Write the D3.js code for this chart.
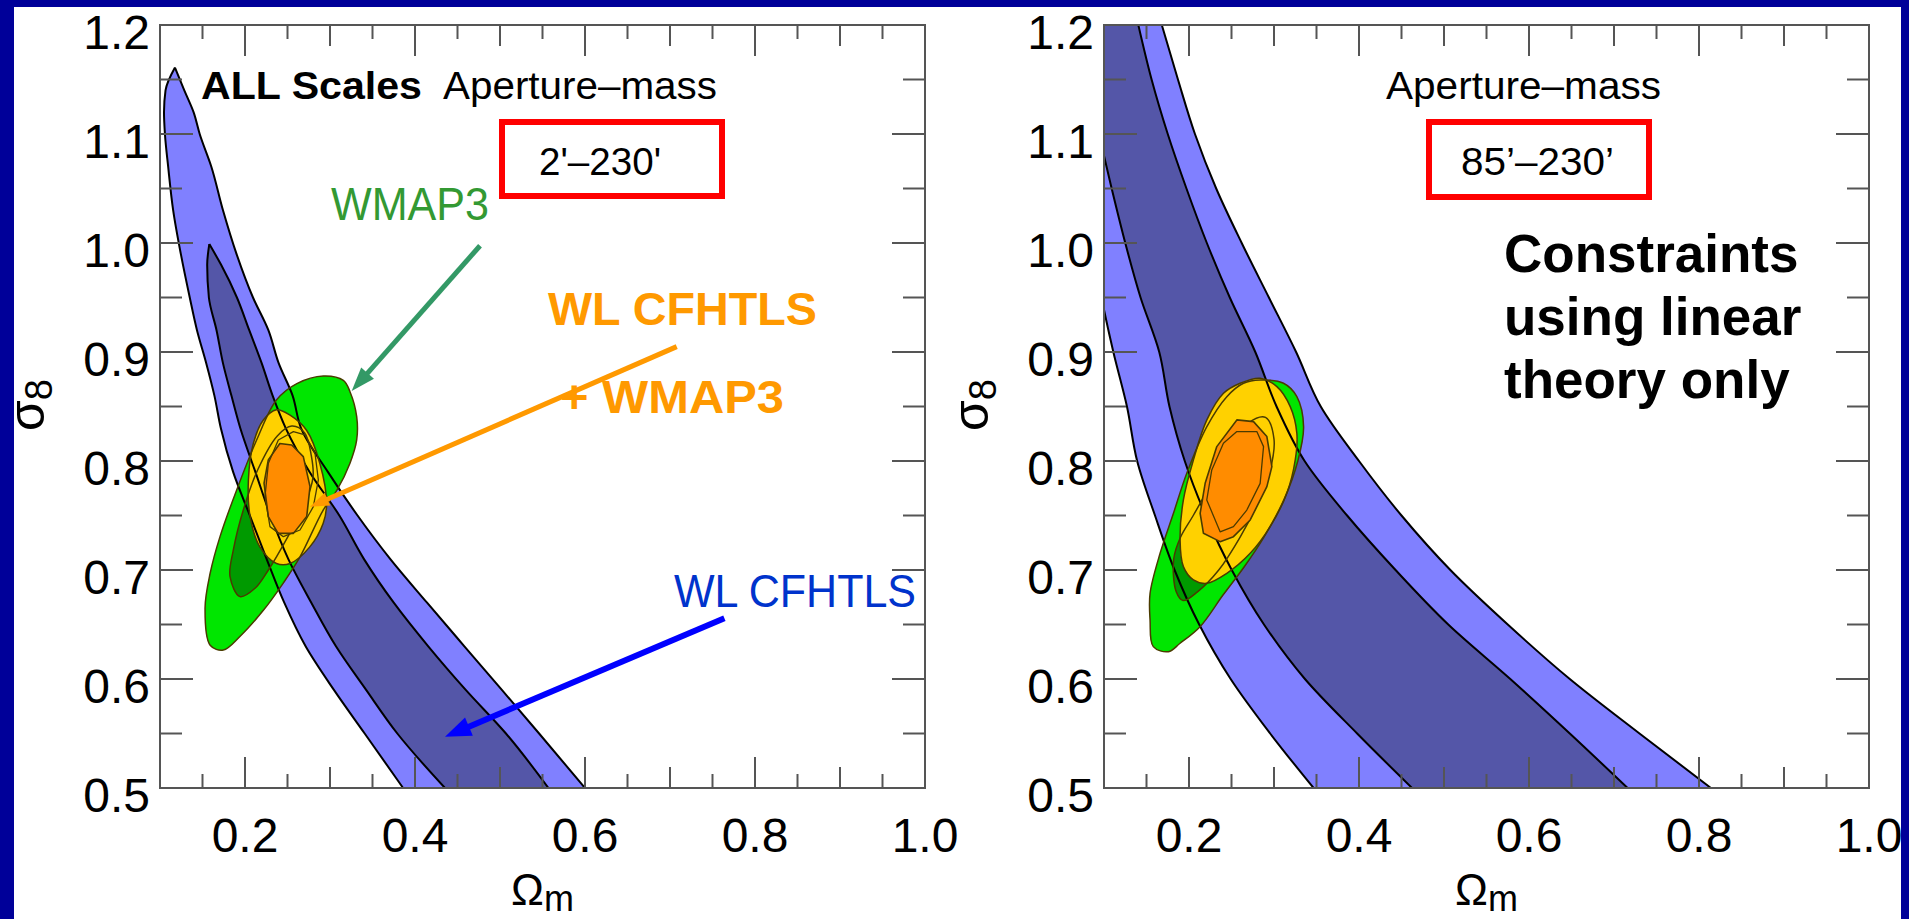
<!DOCTYPE html>
<html>
<head>
<meta charset="utf-8">
<script src="https://cdn.jsdelivr.net/npm/d3@7"></script>
<style>
  html, body { margin: 0; padding: 0; background: #000099; overflow: hidden; }
  svg { display: block; }
  text { font-family: "Liberation Sans", Arial, Helvetica, sans-serif; }
</style>
</head>
<body>
<svg id="fig" width="1909" height="919"></svg>
<script>
// ---------------- axis ticks ----------------
const xLabelTicks = [0.2, 0.4, 0.6, 0.8, 1.0];
const xMidTicks = [0.1, 0.3, 0.5, 0.7, 0.9];
const xMinorTicks = [0.15, 0.25, 0.35, 0.45, 0.55, 0.65, 0.75, 0.85, 0.95];
const yMajorTicks = [0.5, 0.6, 0.7, 0.8, 0.9, 1.0, 1.1, 1.2];
const yMinorTicks = [0.55, 0.65, 0.75, 0.85, 0.95, 1.05, 1.15];

// ---------------- WL CFHTLS, all scales (left panel) ----------------
// each band: sigma8 levels with the Omega_m range [lo, hi] at that level
const allOuterSigma = [1.161, 1.14, 1.12, 1.10, 1.07, 1.03, 0.99, 0.95, 0.92, 0.89, 0.86, 0.83, 0.79, 0.75, 0.71, 0.67, 0.63, 0.59, 0.55, 0.50];
const allOuterLo    = [0.1176, 0.1065, 0.1047, 0.1058, 0.1096, 0.1155, 0.1245, 0.1350, 0.1435, 0.1543, 0.1640, 0.1716, 0.1860, 0.2057, 0.2255, 0.2462, 0.2713, 0.3046, 0.3408, 0.3860];
const allOuterHi    = [0.1176, 0.1286, 0.1395, 0.1467, 0.1604, 0.1741, 0.1900, 0.2094, 0.2275, 0.2395, 0.2560, 0.2660, 0.2975, 0.3324, 0.3710, 0.4142, 0.4581, 0.5022, 0.5460, 0.6000];
const allInnerSigma = [0.999, 0.98, 0.95, 0.92, 0.89, 0.86, 0.83, 0.79, 0.75, 0.71, 0.67, 0.63, 0.59, 0.55, 0.50];
const allInnerLo    = [0.158, 0.1555, 0.1575, 0.1665, 0.1740, 0.1840, 0.1945, 0.2122, 0.2300, 0.2510, 0.2780, 0.3070, 0.3425, 0.3792, 0.4353];
const allInnerHi    = [0.158, 0.1719, 0.1905, 0.2050, 0.2195, 0.2325, 0.2480, 0.2760, 0.3110, 0.3400, 0.3750, 0.4156, 0.4597, 0.5070, 0.5570];

// ---------------- WL CFHTLS, linear scales 85'-230' (right panel) ----------------
const linSigma   = [1.20, 1.15, 1.10, 1.05, 1.00, 0.95, 0.90, 0.85, 0.80, 0.75, 0.70, 0.65, 0.60, 0.55, 0.50];
const linOuterLo = [0.030, 0.045, 0.060, 0.073, 0.085, 0.097, 0.111, 0.127, 0.139, 0.160, 0.183, 0.212, 0.249, 0.2955, 0.3466];
const linOuterHi = [0.168, 0.187, 0.207, 0.232, 0.262, 0.294, 0.326, 0.355, 0.400, 0.450, 0.5075, 0.575, 0.648, 0.730, 0.814];
const linInnerLo = [0.063, 0.078, 0.094, 0.109, 0.125, 0.143, 0.165, 0.177, 0.195, 0.2197, 0.2503, 0.2882, 0.3364, 0.3978, 0.4624];
const linInnerHi = [0.1404, 0.156, 0.175, 0.197, 0.221, 0.248, 0.278, 0.303, 0.336, 0.386, 0.443, 0.505, 0.578, 0.648, 0.716];

// ---------------- WMAP3 and combined contours, [Omega_m, sigma8] ----------------
const wmapOuterA = [[0.2922,0.878],[0.3157,0.874],[0.3235,0.8636],[0.3314,0.8407],[0.3314,0.8193],[0.3235,0.798],[0.308,0.773],[0.292,0.755],[0.2647,0.712],[0.245,0.688],[0.2216,0.663],[0.194,0.639],[0.1745,0.6266],[0.159,0.631],[0.153,0.665],[0.159,0.697],[0.1706,0.7306],[0.19,0.773],[0.2137,0.8193],[0.237,0.856],[0.261,0.871]];
const wmapInnerA = [[0.1941,0.6756],[0.1824,0.6939],[0.1863,0.7184],[0.198,0.7551],[0.215,0.792],[0.238,0.823],[0.255,0.832],[0.27,0.826],[0.278,0.805],[0.28,0.785],[0.27,0.76],[0.25,0.73],[0.2275,0.70],[0.2118,0.6832]];
const combOuterA = [[0.237,0.847],[0.253,0.842],[0.2726,0.828],[0.288,0.798],[0.296,0.761],[0.292,0.743],[0.276,0.721],[0.253,0.706],[0.237,0.706],[0.2176,0.721],[0.206,0.749],[0.204,0.7826],[0.2098,0.816],[0.2216,0.8376]];
const combInnerA = [[0.241,0.816],[0.255,0.8147],[0.2686,0.804],[0.2765,0.7765],[0.2726,0.749],[0.257,0.7336],[0.239,0.7336],[0.2274,0.749],[0.2224,0.7796],[0.2274,0.801]];
const combAltA   = [[0.2392,0.8193],[0.2569,0.827],[0.2706,0.8239],[0.2824,0.807],[0.2863,0.7826],[0.2804,0.7581],[0.2647,0.7367],[0.2451,0.7306],[0.2294,0.7398],[0.2235,0.7673],[0.2275,0.7979]];

const wmapOuterB = [[0.2837,0.8743],[0.3112,0.8713],[0.3269,0.859],[0.3348,0.8315],[0.328,0.80],[0.312,0.765],[0.288,0.73],[0.265,0.703],[0.24,0.677],[0.213,0.648],[0.1895,0.6328],[0.1758,0.6251],[0.158,0.6297],[0.1542,0.6542],[0.1542,0.6786],[0.166,0.7153],[0.1817,0.752],[0.1974,0.7887],[0.221,0.8315],[0.2445,0.859],[0.2641,0.8713]];
const wmapInnerB = [[0.182,0.71],[0.185,0.68],[0.193,0.672],[0.21,0.68],[0.235,0.70],[0.26,0.73],[0.28,0.76],[0.295,0.79],[0.30,0.82],[0.29,0.84],[0.27,0.835],[0.25,0.815],[0.23,0.785],[0.205,0.75],[0.19,0.73]];
const combOuterB = [[0.2406,0.8621],[0.2602,0.8713],[0.2837,0.8759],[0.3034,0.8682],[0.3191,0.8499],[0.3269,0.8254],[0.325,0.801],[0.3151,0.7704],[0.2955,0.7398],[0.272,0.7153],[0.2445,0.697],[0.221,0.6878],[0.2052,0.6909],[0.1934,0.7031],[0.1895,0.7276],[0.1934,0.7643],[0.2052,0.801],[0.221,0.8377]];
const combInnerB = [[0.2563,0.8377],[0.2759,0.8361],[0.2916,0.8224],[0.2975,0.7948],[0.2916,0.7765],[0.272,0.7459],[0.2523,0.7306],[0.2366,0.726],[0.217,0.7337],[0.2131,0.752],[0.219,0.7795],[0.2327,0.8132]];
const combAltB   = [[0.2563,0.827],[0.2798,0.827],[0.2877,0.8132],[0.2837,0.7795],[0.268,0.755],[0.2523,0.7398],[0.2366,0.735],[0.2209,0.7643],[0.2268,0.7918],[0.2405,0.8162]];

// ---------------- annotation arrows, [Omega_m, sigma8] from -> to ----------------
const arrowWmap  = [[0.4765, 0.9975], [0.3255, 0.8642]];
const arrowComb  = [[0.7079, 0.9049], [0.2765, 0.7580]];
const arrowWL    = [[0.7640, 0.6557], [0.4353, 0.5470]];

// ---------------- styling ----------------
const C = {
  navy: "#000099", lightBlue: "#8080ff", darkBlue: "#5456a8",
  green: "#00e600", darkGreen: "#009a00", yellow: "#ffd100", orange: "#ff8c00",
  contourLine: "#4a3b00", frame: "#555555"
};
const PLOT_W = 765, PLOT_TOP = 25, PLOT_BOTTOM = 788;

const svg = d3.select("#fig");
svg.append("rect").attr("x", 0).attr("y", 0).attr("width", 1909).attr("height", 919).attr("fill", C.navy);
svg.append("rect").attr("x", 14).attr("y", 7).attr("width", 1887).attr("height", 912).attr("fill", "#ffffff");
const defs = svg.append("defs");

function drawPanel(cfg) {
  const g = svg.append("g");
  const x = d3.scaleLinear().domain([0.1, 1.0]).range([cfg.left, cfg.left + PLOT_W]);
  const y = d3.scaleLinear().domain([0.5, 1.2]).range([PLOT_BOTTOM, PLOT_TOP]);

  defs.append("clipPath").attr("id", "clip-" + cfg.id)
    .append("rect").attr("x", cfg.left).attr("y", PLOT_TOP)
    .attr("width", PLOT_W).attr("height", PLOT_BOTTOM - PLOT_TOP);
  const plot = g.append("g").attr("clip-path", `url(#clip-${cfg.id})`);

  const band = (sig, lo, hi) => d3.area().curve(d3.curveMonotoneY)
    .y((d, i) => y(sig[i])).x0((d, i) => x(lo[i])).x1((d, i) => x(hi[i]))(sig);
  const edge = (sig, vals) => d3.line().curve(d3.curveMonotoneY)
    .x((d, i) => x(vals[i])).y((d, i) => y(sig[i]))(sig);
  const smooth = d3.line().x(d => x(d[0])).y(d => y(d[1])).curve(d3.curveCatmullRomClosed.alpha(0.5));
  const poly = d3.line().x(d => x(d[0])).y(d => y(d[1])).curve(d3.curveLinearClosed);

  // lensing bands
  plot.append("path").attr("d", band(cfg.outer.sig, cfg.outer.lo, cfg.outer.hi)).attr("fill", C.lightBlue);
  plot.append("path").attr("d", band(cfg.inner.sig, cfg.inner.lo, cfg.inner.hi)).attr("fill", C.darkBlue);

  // WMAP3 and combined fills
  plot.append("path").attr("d", smooth(cfg.wmapOuter)).attr("fill", C.green);
  plot.append("path").attr("d", smooth(cfg.wmapInner)).attr("fill", C.darkGreen);
  plot.append("path").attr("d", smooth(cfg.combOuter)).attr("fill", C.yellow);

  // contour outlines
  [[cfg.outer.sig, cfg.outer.lo], [cfg.outer.sig, cfg.outer.hi],
   [cfg.inner.sig, cfg.inner.lo], [cfg.inner.sig, cfg.inner.hi]].forEach(([s, v]) => {
    plot.append("path").attr("d", edge(s, v)).attr("fill", "none")
      .attr("stroke", "#000").attr("stroke-width", 2);
  });
  [cfg.wmapOuter, cfg.wmapInner, cfg.combOuter].forEach(c => {
    plot.append("path").attr("d", smooth(c)).attr("fill", "none")
      .attr("stroke", C.contourLine).attr("stroke-width", 1.5);
  });

  // combined 1-sigma region on top
  plot.append("path").attr("d", poly(cfg.combInner)).attr("fill", C.orange)
    .attr("stroke", C.contourLine).attr("stroke-width", 1.6).attr("stroke-linejoin", "round");
  plot.append("path").attr("d", poly(cfg.combAlt)).attr("fill", "none")
    .attr("stroke", C.contourLine).attr("stroke-width", 1.3).attr("stroke-linejoin", "round");

  // frame and ticks
  const axisG = g.append("g").attr("stroke", C.frame).attr("stroke-width", 2).attr("fill", "none");
  axisG.append("rect").attr("x", cfg.left).attr("y", PLOT_TOP)
    .attr("width", PLOT_W).attr("height", PLOT_BOTTOM - PLOT_TOP);
  const xTicks = [].concat(
    xLabelTicks.map(v => ({ v, len: 31 })),
    xMidTicks.map(v => ({ v, len: 21 })),
    xMinorTicks.map(v => ({ v, len: 14 })));
  axisG.selectAll(".xb").data(xTicks).join("line")
    .attr("x1", d => x(d.v)).attr("x2", d => x(d.v))
    .attr("y1", PLOT_BOTTOM).attr("y2", d => PLOT_BOTTOM - d.len);
  axisG.selectAll(".xt").data(xTicks).join("line")
    .attr("x1", d => x(d.v)).attr("x2", d => x(d.v))
    .attr("y1", PLOT_TOP).attr("y2", d => PLOT_TOP + d.len);
  const yTicks = [].concat(yMajorTicks.map(v => ({ v, len: 33 })), yMinorTicks.map(v => ({ v, len: 22 })));
  axisG.selectAll(".yl").data(yTicks).join("line")
    .attr("x1", cfg.left).attr("x2", d => cfg.left + d.len)
    .attr("y1", d => y(d.v)).attr("y2", d => y(d.v));
  axisG.selectAll(".yr").data(yTicks).join("line")
    .attr("x1", cfg.left + PLOT_W).attr("x2", d => cfg.left + PLOT_W - d.len)
    .attr("y1", d => y(d.v)).attr("y2", d => y(d.v));

  // tick labels
  g.append("g").selectAll("text").data(yMajorTicks).join("text")
    .attr("x", cfg.left - 10).attr("y", d => y(d) + 24)
    .attr("text-anchor", "end").attr("font-size", 48).attr("fill", "#000")
    .text(d3.format(".1f"));
  g.append("g").selectAll("text").data(xLabelTicks).join("text")
    .attr("x", d => x(d)).attr("y", 852)
    .attr("text-anchor", "middle").attr("font-size", 48).attr("fill", "#000")
    .text(d3.format(".1f"));

  // axis titles
  const xt = g.append("text").attr("x", cfg.left + PLOT_W / 2).attr("y", 905)
    .attr("text-anchor", "middle").attr("fill", "#000");
  xt.append("tspan").attr("font-size", 44).text("Ω");
  xt.append("tspan").attr("font-size", 36).attr("dy", 6).text("m");
  const yt = g.append("text")
    .attr("transform", `translate(${cfg.left - 116},405) rotate(-90)`)
    .attr("text-anchor", "middle").attr("fill", "#000");
  yt.append("tspan").attr("font-size", 50).text("σ");
  yt.append("tspan").attr("font-size", 38).attr("dy", 8).text("8");

  return { g, x, y };
}

function arrow(g, x, y, pts, color, width, headLen, headW) {
  const [x1, y1] = [x(pts[0][0]), y(pts[0][1])];
  const [x2, y2] = [x(pts[1][0]), y(pts[1][1])];
  const a = Math.atan2(y2 - y1, x2 - x1);
  const bx = x2 - headLen * Math.cos(a), by = y2 - headLen * Math.sin(a);
  g.append("line").attr("x1", x1).attr("y1", y1)
    .attr("x2", bx + 2 * Math.cos(a)).attr("y2", by + 2 * Math.sin(a))
    .attr("stroke", color).attr("stroke-width", width);
  const nx = Math.sin(a) * headW / 2, ny = -Math.cos(a) * headW / 2;
  g.append("polygon")
    .attr("points", [[x2, y2], [bx + nx, by + ny], [bx - nx, by - ny]].map(p => p.join(",")).join(" "))
    .attr("fill", color);
}

// ---------------- left panel: all scales ----------------
const L = drawPanel({
  id: "all", left: 160,
  outer: { sig: allOuterSigma, lo: allOuterLo, hi: allOuterHi },
  inner: { sig: allInnerSigma, lo: allInnerLo, hi: allInnerHi },
  wmapOuter: wmapOuterA, wmapInner: wmapInnerA,
  combOuter: combOuterA, combInner: combInnerA, combAlt: combAltA
});
{
  const g = L.g;
  g.append("text").attr("x", 201).attr("y", 99).attr("font-size", 38).attr("font-weight", "bold")
    .attr("fill", "#000").attr("textLength", 221).attr("lengthAdjust", "spacingAndGlyphs").text("ALL Scales");
  g.append("text").attr("x", 443).attr("y", 99).attr("font-size", 38).attr("fill", "#000")
    .attr("textLength", 274).attr("lengthAdjust", "spacingAndGlyphs").text("Aperture–mass");
  g.append("rect").attr("x", 502).attr("y", 122).attr("width", 220).attr("height", 74)
    .attr("fill", "none").attr("stroke", "#ff0000").attr("stroke-width", 6);
  g.append("text").attr("x", 539).attr("y", 175).attr("font-size", 38).attr("fill", "#000")
    .attr("textLength", 122).attr("lengthAdjust", "spacingAndGlyphs").text("2'–230'");

  g.append("text").attr("x", 331).attr("y", 220).attr("font-size", 46).attr("fill", "#339933")
    .attr("textLength", 158).attr("lengthAdjust", "spacingAndGlyphs").text("WMAP3");
  arrow(g, L.x, L.y, arrowWmap, "#339966", 5, 24, 17);

  g.append("text").attr("x", 548).attr("y", 325).attr("font-size", 46).attr("font-weight", "bold")
    .attr("fill", "#ff9900").attr("textLength", 269).attr("lengthAdjust", "spacingAndGlyphs").text("WL CFHTLS");
  g.append("text").attr("x", 560).attr("y", 413).attr("font-size", 46).attr("font-weight", "bold")
    .attr("fill", "#ff9900").attr("textLength", 224).attr("lengthAdjust", "spacingAndGlyphs").text("+ WMAP3");
  arrow(g, L.x, L.y, arrowComb, "#ff9900", 5, 19, 14);

  g.append("text").attr("x", 674).attr("y", 607).attr("font-size", 47).attr("fill", "#0033cc")
    .attr("textLength", 242).attr("lengthAdjust", "spacingAndGlyphs").text("WL CFHTLS");
  arrow(g, L.x, L.y, arrowWL, "#0000ff", 6, 26, 20);
}

// ---------------- right panel: linear scales only ----------------
const R = drawPanel({
  id: "lin", left: 1104,
  outer: { sig: linSigma, lo: linOuterLo, hi: linOuterHi },
  inner: { sig: linSigma, lo: linInnerLo, hi: linInnerHi },
  wmapOuter: wmapOuterB, wmapInner: wmapInnerB,
  combOuter: combOuterB, combInner: combInnerB, combAlt: combAltB
});
{
  const g = R.g;
  g.append("text").attr("x", 1386).attr("y", 99).attr("font-size", 38).attr("fill", "#000")
    .attr("textLength", 275).attr("lengthAdjust", "spacingAndGlyphs").text("Aperture–mass");
  g.append("rect").attr("x", 1429).attr("y", 122).attr("width", 220).attr("height", 75)
    .attr("fill", "none").attr("stroke", "#ff0000").attr("stroke-width", 6);
  g.append("text").attr("x", 1461).attr("y", 175).attr("font-size", 38).attr("fill", "#000")
    .attr("textLength", 153).attr("lengthAdjust", "spacingAndGlyphs").text("85’–230’");
  const lines = ["Constraints", "using linear", "theory only"];
  g.append("g").selectAll("text").data(lines).join("text")
    .attr("x", 1504).attr("y", (d, i) => 272 + i * 63)
    .attr("font-size", 53).attr("font-weight", "bold").attr("fill", "#000")
    .text(d => d);
}

// outer border strips on top
svg.append("rect").attr("x", 1901).attr("y", 0).attr("width", 8).attr("height", 919).attr("fill", C.navy);
svg.append("rect").attr("x", 0).attr("y", 0).attr("width", 14).attr("height", 919).attr("fill", C.navy);
svg.append("rect").attr("x", 0).attr("y", 0).attr("width", 1909).attr("height", 7).attr("fill", C.navy);
</script>
</body>
</html>
